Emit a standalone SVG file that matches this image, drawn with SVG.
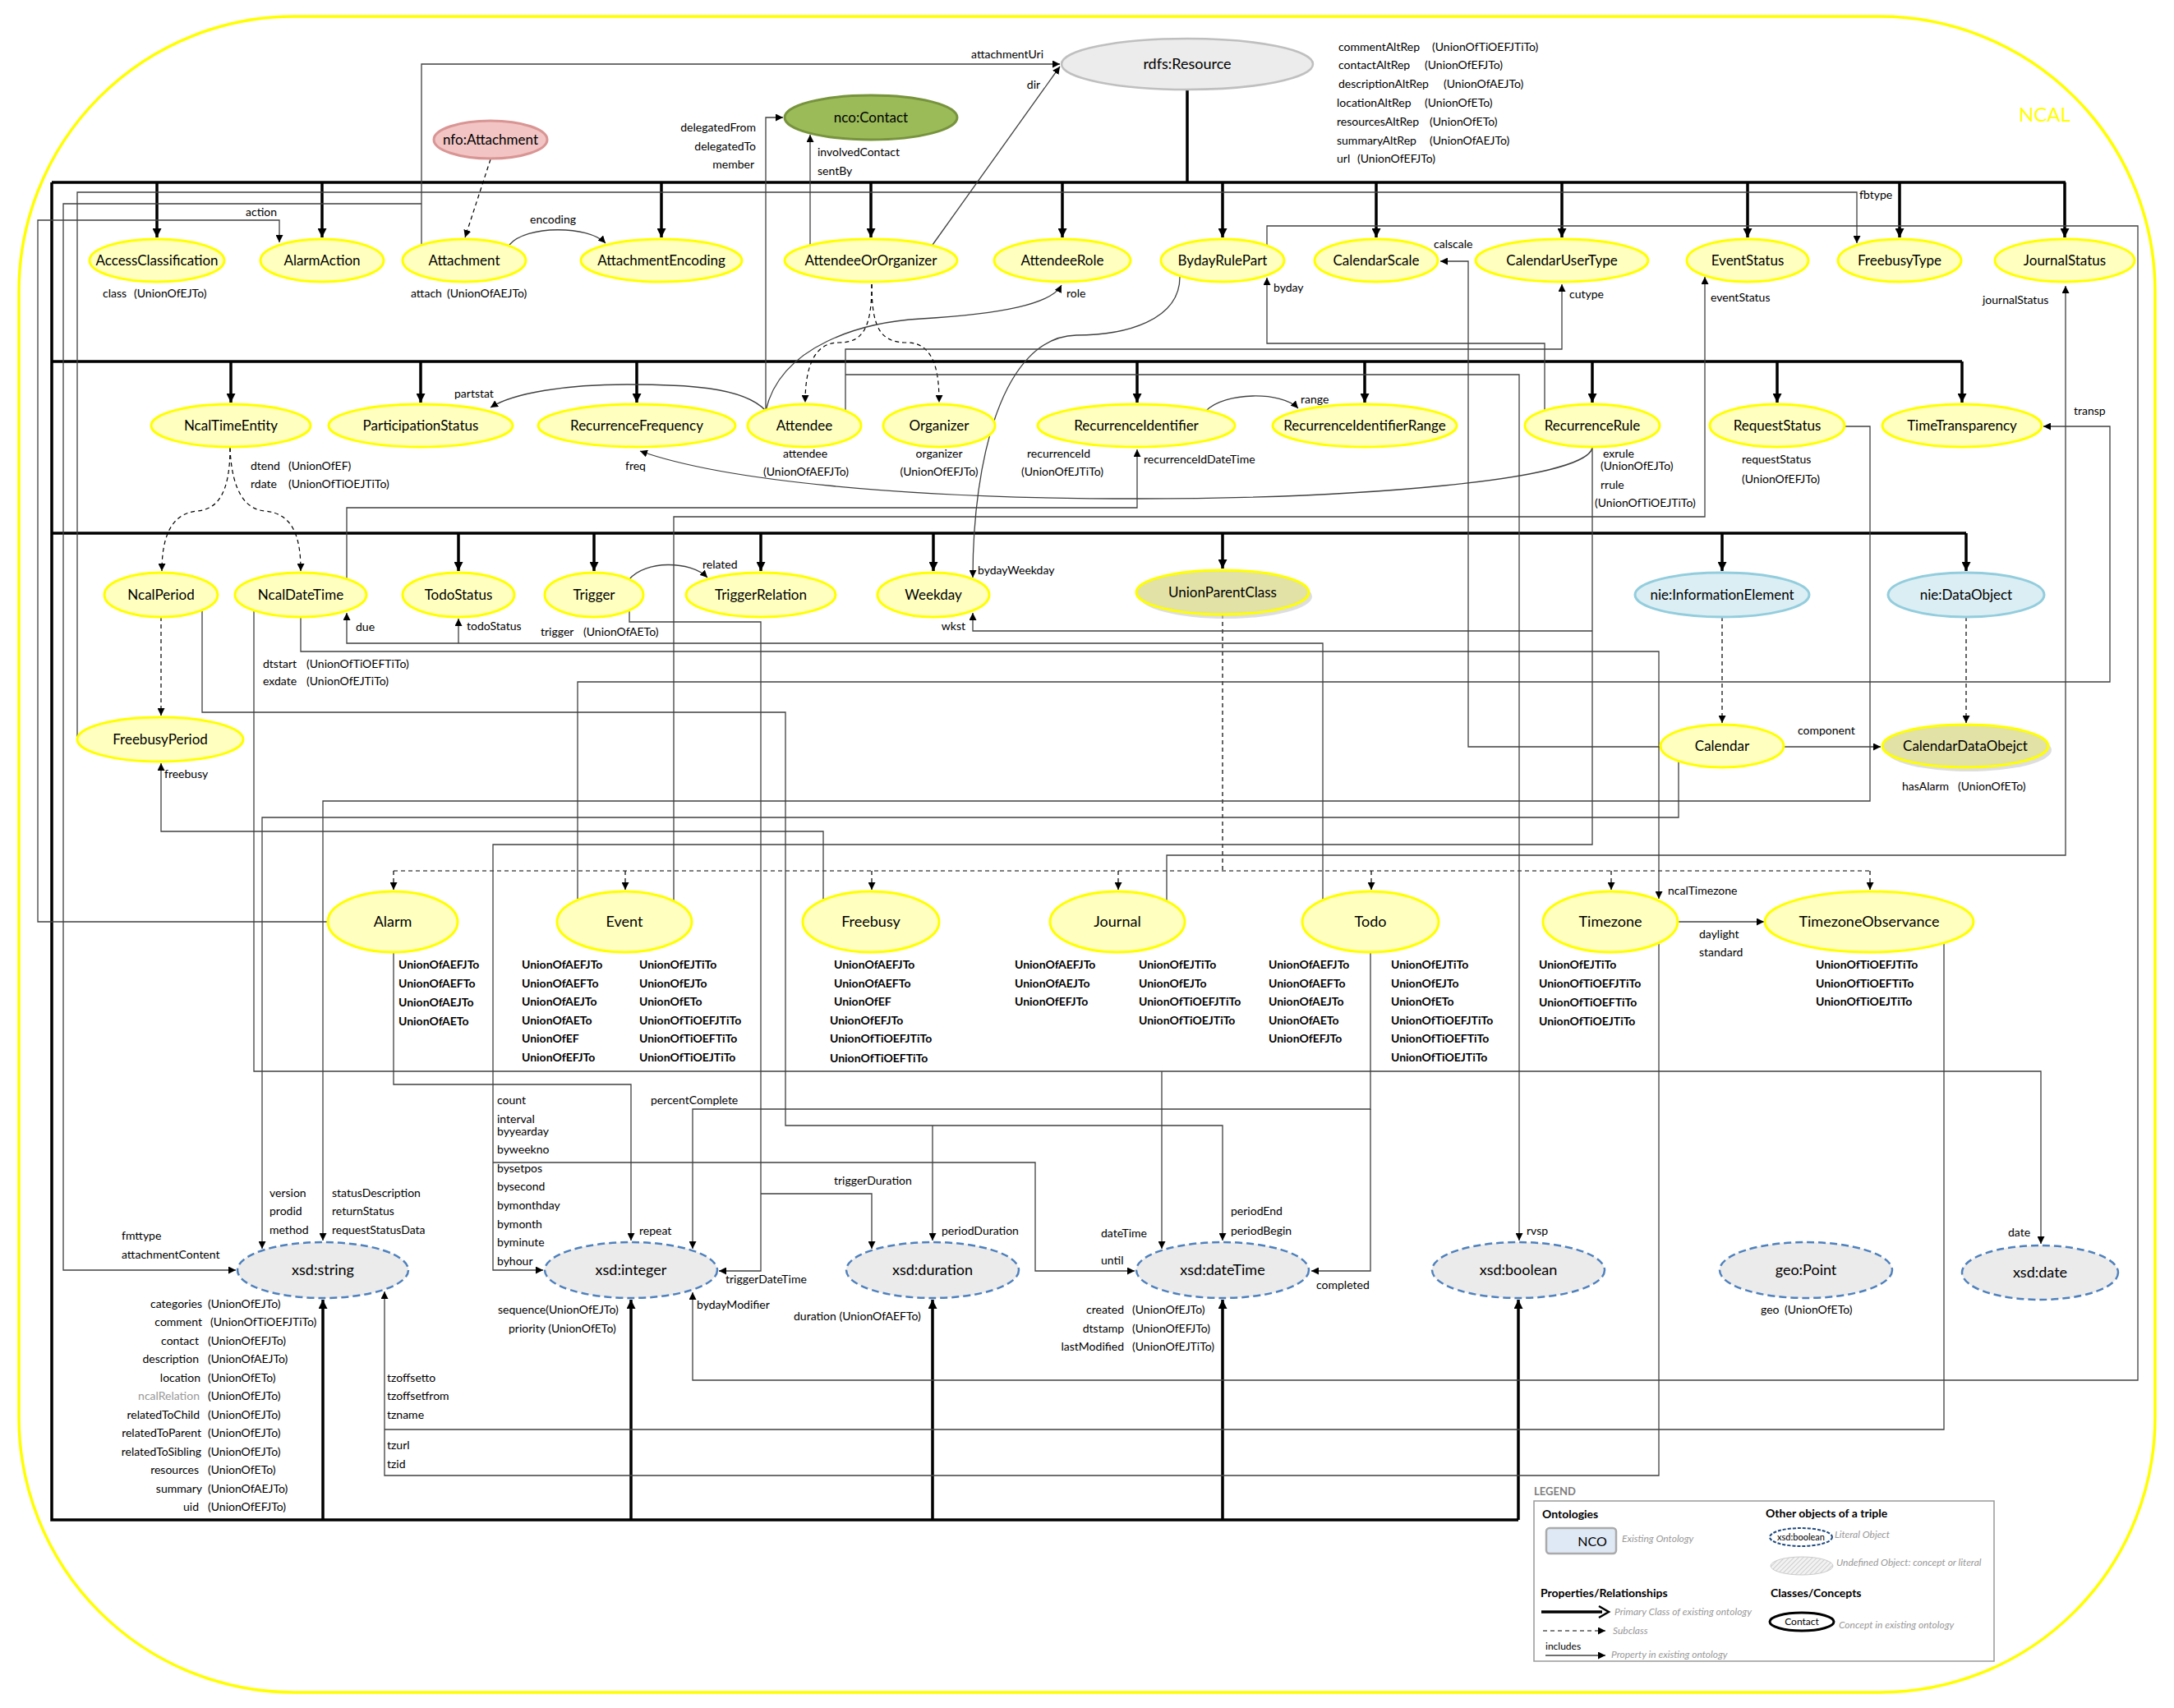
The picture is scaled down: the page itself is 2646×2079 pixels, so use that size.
<svg xmlns="http://www.w3.org/2000/svg" width="2646" height="2079" viewBox="0 0 2646 2079">
<style>
text{font-family:Lato,"Liberation Sans",sans-serif;fill:#000}
.t{font-size:17px;text-anchor:middle}
.tl{font-size:18px;text-anchor:middle}
.s{font-size:14px}
.m{text-anchor:middle}
.e{text-anchor:end}
.b{font-size:14px;font-weight:bold}
.n{fill:#ffffc0;stroke:#ffff00;stroke-width:3}
.k{fill:#e3e2a6;stroke:#ffff00;stroke-width:3}
.lit{fill:#ebebeb;stroke:#4f81bd;stroke-width:2.5;stroke-dasharray:9 5}
.nie{fill:#dbeef4;stroke:#93cddd;stroke-width:3}
.c{fill:none;stroke:#404040;stroke-width:1.3;marker-end:url(#a)}
.cn{fill:none;stroke:#404040;stroke-width:1.3}
.d{fill:none;stroke:#000;stroke-width:1.2;stroke-dasharray:5 4}
.da{fill:none;stroke:#000;stroke-width:1.2;stroke-dasharray:5 4;marker-end:url(#a)}
.B{fill:none;stroke:#000;stroke-width:3.5}
.Ba{fill:none;stroke:#000;stroke-width:3.5;marker-end:url(#ab)}
.lg{font-size:12px;font-style:italic;fill:#999}
.lh{font-size:14px;font-weight:bold}
</style>
<defs>
<marker id="a" viewBox="0 0 10 10" refX="10" refY="5" markerWidth="9" markerHeight="9" markerUnits="userSpaceOnUse" orient="auto"><path d="M0,0 L10,5 L0,10 z" fill="#000"/></marker>
<marker id="ab" viewBox="0 0 10 10" refX="10" refY="5" markerWidth="12" markerHeight="11" markerUnits="userSpaceOnUse" orient="auto"><path d="M0,0 L10,5 L0,10 z" fill="#000"/></marker>
<pattern id="hatch" width="4" height="4" patternUnits="userSpaceOnUse" patternTransform="rotate(45)"><rect width="4" height="4" fill="#f2f2f2"/><line x1="0" y1="0" x2="0" y2="4" stroke="#aaa" stroke-width="1"/></pattern>
</defs>
<rect x="0" y="0" width="2646" height="2079" fill="#fff"/>
<rect x="23" y="20" width="2600" height="2040" rx="335" ry="335" fill="none" stroke="#ffff00" stroke-width="3.5"/>
<text x="2457" y="148" style="font-size:24px;fill:#ffff00">NCAL</text>

<g id="connectors">
<path class="B" d="M1445,109 V222 M63,222 H2514 M63,222 V1850 H1848 M63,440 H2388 M63,649 H2393"/>
<path class="Ba" d="M191,222 V289"/><path class="Ba" d="M392,222 V289"/><path class="Ba" d="M805,222 V289"/>
<path class="Ba" d="M1060,222 V289"/><path class="Ba" d="M1293,222 V289"/><path class="Ba" d="M1488,222 V289"/>
<path class="Ba" d="M1675,222 V289"/><path class="Ba" d="M1901,222 V289"/><path class="Ba" d="M2127,222 V289"/>
<path class="Ba" d="M2312,222 V289"/><path class="Ba" d="M2513,222 V289"/>
<path class="Ba" d="M281,440 V490"/><path class="Ba" d="M512,440 V490"/><path class="Ba" d="M775,440 V490"/>
<path class="Ba" d="M1384,440 V490"/><path class="Ba" d="M1661,440 V490"/><path class="Ba" d="M1938,440 V490"/>
<path class="Ba" d="M2163,440 V490"/><path class="Ba" d="M2388,440 V490"/>
<path class="Ba" d="M558,649 V695"/><path class="Ba" d="M723,649 V695"/><path class="Ba" d="M926,649 V695"/>
<path class="Ba" d="M1136,649 V695"/><path class="Ba" d="M1488,649 V692"/><path class="Ba" d="M2096,649 V695"/>
<path class="Ba" d="M2393,649 V695"/>
<path class="Ba" d="M393,1850 V1582"/><path class="Ba" d="M768,1850 V1582"/><path class="Ba" d="M1135,1850 V1582"/>
<path class="Ba" d="M1488,1850 V1582"/><path class="Ba" d="M1848,1850 V1582"/>

<path class="da" d="M597,194 L566,289"/>
<path class="da" d="M1061,346 C1061,400 1050,417 1021,417 C985,417 980,460 980,490"/>
<path class="da" d="M1061,346 C1061,400 1072,417 1104,417 C1140,417 1143,460 1143,490"/>
<path class="da" d="M280,545 C280,600 265,620 240,622 C205,625 197,660 197,695"/>
<path class="da" d="M280,545 C282,600 300,620 322,622 C360,625 366,660 366,695"/>
<path class="da" d="M196,751 V871"/>
<path class="da" d="M2096,751 V880"/>
<path class="da" d="M2393,751 V880"/>
<path class="d" d="M1488,748 V1060 M479,1060 H2276"/>
<path class="da" d="M479,1060 V1083"/><path class="da" d="M761,1060 V1083"/><path class="da" d="M1061,1060 V1083"/>
<path class="da" d="M1361,1060 V1083"/><path class="da" d="M1669,1060 V1083"/><path class="da" d="M1961,1060 V1083"/>
<path class="da" d="M2276,1060 V1083"/>

<path class="c" d="M513,298 V78 H1290"/>
<path class="c" d="M513,248 H77 V1546 H287"/>
<path class="c" d="M1135,298 L1290,81"/>
<path class="c" d="M986,298 V164"/>
<path class="c" d="M932,500 V143 H953"/>
<path class="c" d="M620,298 C640,274 716,274 737,296"/>
<path class="c" d="M399,1122 H46 V268 H340 V295"/>
<path class="c" d="M94,900 V234 H2260 V296"/>
<path class="c" d="M932,500 C950,420 1050,392 1121,388 C1220,382 1280,370 1292,347"/>
<path class="c" d="M932,500 C905,470 830,468 763,468 C690,468 625,478 597,496"/>
<path class="c" d="M1029,500 V425 H1901 V346"/>
<path class="c" d="M1029,456 H1849 V1510"/>
<path class="c" d="M1880,500 V418 H1542 V338"/>
<path class="c" d="M2021,909 H1787 V318 H1753"/>
<path class="c" d="M1542,298 V275 H2602 V1680 H843 V1573"/>
<path class="c" d="M1436,337 C1436,390 1370,408 1310,408 C1220,410 1184,560 1184,703"/>
<path class="c" d="M1938,768 H1184 V746"/>
<path class="c" d="M1938,545 V1028 H600 V1546 H661"/>
<path class="c" d="M600,1415 H1260 V1547 H1381"/>
<path class="c" d="M1468,500 C1490,477 1560,476 1580,497"/>
<path class="c" d="M422,705 V618 H1384 V547"/>
<path class="c" d="M1938,545 C1930,585 1650,607 1385,607 C1100,607 880,585 779,549"/>
<path class="c" d="M1610,1095 V783 H422 V746"/>
<path class="c" d="M558,783 V753"/>
<path class="c" d="M366,751 V793 H2019 V1094"/>
<path class="c" d="M766,743 V757 H926 V1547 H875"/>
<path class="c" d="M926,1453 H1061 V1520"/>
<path class="c" d="M766,705 C785,682 840,682 861,703"/>
<path class="c" d="M246,743 V867 H956 V1370 H1488 V1510"/>
<path class="c" d="M1135,1370 V1510"/>
<path class="c" d="M309,743 V1304 H2484 V1514"/>
<path class="c" d="M1414,1304 V1520"/>
<path class="c" d="M1002,1095 V1012 H196 V929"/>
<path class="c" d="M2043,926 V995 H319 V1520"/>
<path class="c" d="M2245,519 H2276 V975 H393 V1510"/>
<path class="c" d="M479,1159 V1320 H768 V1510"/>
<path class="c" d="M1668,1159 V1350 H843 V1520"/>
<path class="c" d="M1668,1350 V1547 H1596"/>
<path class="c" d="M2019,1148 V1796 H468 V1572"/>
<path class="cn" d="M2366,1148 V1740 H468"/>
<path class="c" d="M1420,1097 V1041 H2514 V348"/>
<path class="c" d="M820,1097 V629 H2075 V337"/>
<path class="c" d="M703,1096 V830 H2568 V519 H2487"/>
<path class="c" d="M2171,909 H2289"/>
<path class="c" d="M2042,1122 H2147"/>
</g>

<g id="edge-labels" class="s">
<text class="s e" x="1270" y="71">attachmentUri</text>
<text class="s m" x="1258" y="108">dir</text>
<text class="s" x="995" y="190">involvedContact</text>
<text class="s" x="995" y="213">sentBy</text>
<text class="s e" x="920" y="160">delegatedFrom</text>
<text class="s e" x="920" y="183">delegatedTo</text>
<text class="s e" x="918" y="205">member</text>
<text class="s m" x="673" y="272">encoding</text>
<text class="s m" x="318" y="263">action</text>
<text class="s" x="2263" y="242">fbtype</text>
<text class="s" x="1745" y="302">calscale</text>
<text class="s" x="125" y="362">class</text><text class="s" x="163" y="362">(UnionOfEJTo)</text>
<text class="s" x="500" y="362">attach</text><text class="s" x="544" y="362">(UnionOfAEJTo)</text>
<text class="s" x="1298" y="362">role</text>
<text class="s" x="1550" y="355">byday</text>
<text class="s" x="1910" y="363">cutype</text>
<text class="s" x="2082" y="367">eventStatus</text>
<text class="s" x="2413" y="370">journalStatus</text>
<text class="s" x="553" y="484">partstat</text>
<text class="s" x="1583" y="491">range</text>
<text class="s" x="2524" y="505">transp</text>
<text class="s" x="761" y="572">freq</text>
<text class="s" x="305" y="572">dtend</text><text class="s" x="351" y="572">(UnionOfEF)</text>
<text class="s" x="305" y="594">rdate</text><text class="s" x="351" y="594">(UnionOfTiOEJTiTo)</text>
<text class="s m" x="980" y="557">attendee</text>
<text class="s m" x="981" y="579">(UnionOfAEFJTo)</text>
<text class="s m" x="1143" y="557">organizer</text>
<text class="s m" x="1143" y="579">(UnionOfEFJTo)</text>
<text class="s" x="1250" y="557">recurrenceId</text>
<text class="s" x="1243" y="579">(UnionOfEJTiTo)</text>
<text class="s" x="1392" y="564">recurrenceIdDateTime</text>
<text class="s" x="1951" y="557">exrule</text>
<text class="s" x="1948" y="572">(UnionOfEJTo)</text>
<text class="s" x="1948" y="595">rrule</text>
<text class="s" x="1941" y="617">(UnionOfTiOEJTiTo)</text>
<text class="s" x="2120" y="564">requestStatus</text>
<text class="s" x="2120" y="588">(UnionOfEFJTo)</text>
<text class="s" x="1629" y="62">commentAltRep</text><text class="s" x="1743" y="62">(UnionOfTiOEFJTiTo)</text>
<text class="s" x="1629" y="84">contactAltRep</text><text class="s" x="1734" y="84">(UnionOfEFJTo)</text>
<text class="s" x="1629" y="107">descriptionAltRep</text><text class="s" x="1757" y="107">(UnionOfAEJTo)</text>
<text class="s" x="1627" y="130">locationAltRep</text><text class="s" x="1734" y="130">(UnionOfETo)</text>
<text class="s" x="1627" y="153">resourcesAltRep</text><text class="s" x="1740" y="153">(UnionOfETo)</text>
<text class="s" x="1627" y="176">summaryAltRep</text><text class="s" x="1740" y="176">(UnionOfAEJTo)</text>
<text class="s" x="1627" y="198">url</text><text class="s" x="1652" y="198">(UnionOfEFJTo)</text>
<text class="s" x="855" y="692">related</text>
<text class="s" x="1190" y="699">bydayWeekday</text>
<text class="s" x="433" y="768">due</text>
<text class="s" x="568" y="767">todoStatus</text>
<text class="s" x="658" y="774">trigger</text><text class="s" x="710" y="774">(UnionOfAETo)</text>
<text class="s e" x="1175" y="767">wkst</text>
<text class="s" x="320" y="813">dtstart</text><text class="s" x="373" y="813">(UnionOfTiOEFTiTo)</text>
<text class="s" x="320" y="834">exdate</text><text class="s" x="373" y="834">(UnionOfEJTiTo)</text>
<text class="s" x="200" y="947">freebusy</text>
<text class="s" x="2188" y="894">component</text>
<text class="s" x="2315" y="962">hasAlarm</text><text class="s" x="2383" y="962">(UnionOfETo)</text>
<text class="s" x="2030" y="1089">ncalTimezone</text>
<text class="s" x="2068" y="1142">daylight</text>
<text class="s" x="2068" y="1164">standard</text>
<text class="s" x="605" y="1344">count</text>
<text class="s" x="605" y="1367">interval</text>
<text class="s" x="605" y="1382">byyearday</text>
<text class="s" x="605" y="1404">byweekno</text>
<text class="s" x="605" y="1427">bysetpos</text>
<text class="s" x="605" y="1449">bysecond</text>
<text class="s" x="605" y="1472">bymonthday</text>
<text class="s" x="605" y="1495">bymonth</text>
<text class="s" x="605" y="1517">byminute</text>
<text class="s" x="605" y="1540">byhour</text>
<text class="s" x="792" y="1344">percentComplete</text>
<text class="s" x="1015" y="1442">triggerDuration</text>
<text class="s" x="1146" y="1503">periodDuration</text>
<text class="s" x="1498" y="1479">periodEnd</text>
<text class="s" x="1498" y="1503">periodBegin</text>
<text class="s" x="1340" y="1506">dateTime</text>
<text class="s" x="1340" y="1539">until</text>
<text class="s" x="883" y="1562">triggerDateTime</text>
<text class="s" x="1602" y="1569">completed</text>
<text class="s" x="778" y="1503">repeat</text>
<text class="s" x="1858" y="1503">rvsp</text>
<text class="s" x="2444" y="1505">date</text>
<text class="s" x="328" y="1457">version</text>
<text class="s" x="328" y="1479">prodid</text>
<text class="s" x="328" y="1502">method</text>
<text class="s" x="404" y="1457">statusDescription</text>
<text class="s" x="404" y="1479">returnStatus</text>
<text class="s" x="404" y="1502">requestStatusData</text>
<text class="s" x="148" y="1509">fmttype</text>
<text class="s" x="148" y="1532">attachmentContent</text>
<text class="s" x="848" y="1593">bydayModifier</text>
<text class="s" x="606" y="1599">sequence(UnionOfEJTo)</text>
<text class="s" x="619" y="1622">priority (UnionOfETo)</text>
<text class="s" x="966" y="1607">duration (UnionOfAEFTo)</text>
<text class="s e" x="1368" y="1599">created</text><text class="s" x="1378" y="1599">(UnionOfEJTo)</text>
<text class="s e" x="1368" y="1622">dtstamp</text><text class="s" x="1378" y="1622">(UnionOfEFJTo)</text>
<text class="s e" x="1368" y="1644">lastModified</text><text class="s" x="1378" y="1644">(UnionOfEJTiTo)</text>
<text class="s" x="2143" y="1599">geo</text><text class="s" x="2172" y="1599">(UnionOfETo)</text>
<text class="s" x="471" y="1682">tzoffsetto</text>
<text class="s" x="471" y="1704">tzoffsetfrom</text>
<text class="s" x="471" y="1727">tzname</text>
<text class="s" x="471" y="1764">tzurl</text>
<text class="s" x="471" y="1787">tzid</text>
<text class="s e" x="246" y="1592">categories</text><text class="s" x="253" y="1592">(UnionOfEJTo)</text>
<text class="s e" x="246" y="1614">comment</text><text class="s" x="256" y="1614">(UnionOfTiOEFJTiTo)</text>
<text class="s e" x="242" y="1637">contact</text><text class="s" x="253" y="1637">(UnionOfEFJTo)</text>
<text class="s e" x="242" y="1659">description</text><text class="s" x="253" y="1659">(UnionOfAEJTo)</text>
<text class="s e" x="244" y="1682">location</text><text class="s" x="253" y="1682">(UnionOfETo)</text>
<text class="s e" x="243" y="1704" style="fill:#999">ncalRelation</text><text class="s" x="253" y="1704">(UnionOfEJTo)</text>
<text class="s e" x="243" y="1727">relatedToChild</text><text class="s" x="253" y="1727">(UnionOfEJTo)</text>
<text class="s e" x="245" y="1749">relatedToParent</text><text class="s" x="253" y="1749">(UnionOfEJTo)</text>
<text class="s e" x="245" y="1772">relatedToSibling</text><text class="s" x="253" y="1772">(UnionOfEJTo)</text>
<text class="s e" x="242" y="1794">resources</text><text class="s" x="253" y="1794">(UnionOfETo)</text>
<text class="s e" x="246" y="1817">summary</text><text class="s" x="253" y="1817">(UnionOfAEJTo)</text>
<text class="s e" x="242" y="1839">uid</text><text class="s" x="253" y="1839">(UnionOfEFJTo)</text>
</g>

<g id="union-labels" class="b">
<text class="b" x="485" y="1179">UnionOfAEFJTo</text>
<text class="b" x="485" y="1202">UnionOfAEFTo</text>
<text class="b" x="485" y="1225">UnionOfAEJTo</text>
<text class="b" x="485" y="1248">UnionOfAETo</text>
<text class="b" x="635" y="1179">UnionOfAEFJTo</text>
<text class="b" x="635" y="1202">UnionOfAEFTo</text>
<text class="b" x="635" y="1224">UnionOfAEJTo</text>
<text class="b" x="635" y="1247">UnionOfAETo</text>
<text class="b" x="635" y="1269">UnionOfEF</text>
<text class="b" x="635" y="1292">UnionOfEFJTo</text>
<text class="b" x="778" y="1179">UnionOfEJTiTo</text>
<text class="b" x="778" y="1202">UnionOfEJTo</text>
<text class="b" x="778" y="1224">UnionOfETo</text>
<text class="b" x="778" y="1247">UnionOfTiOEFJTiTo</text>
<text class="b" x="778" y="1269">UnionOfTiOEFTiTo</text>
<text class="b" x="778" y="1292">UnionOfTiOEJTiTo</text>
<text class="b" x="1015" y="1179">UnionOfAEFJTo</text>
<text class="b" x="1015" y="1202">UnionOfAEFTo</text>
<text class="b" x="1015" y="1224">UnionOfEF</text>
<text class="b" x="1010" y="1247">UnionOfEFJTo</text>
<text class="b" x="1010" y="1269">UnionOfTiOEFJTiTo</text>
<text class="b" x="1010" y="1293">UnionOfTiOEFTiTo</text>
<text class="b" x="1235" y="1179">UnionOfAEFJTo</text>
<text class="b" x="1235" y="1202">UnionOfAEJTo</text>
<text class="b" x="1235" y="1224">UnionOfEFJTo</text>
<text class="b" x="1386" y="1179">UnionOfEJTiTo</text>
<text class="b" x="1386" y="1202">UnionOfEJTo</text>
<text class="b" x="1386" y="1224">UnionOfTiOEFJTiTo</text>
<text class="b" x="1386" y="1247">UnionOfTiOEJTiTo</text>
<text class="b" x="1544" y="1179">UnionOfAEFJTo</text>
<text class="b" x="1544" y="1202">UnionOfAEFTo</text>
<text class="b" x="1544" y="1224">UnionOfAEJTo</text>
<text class="b" x="1544" y="1247">UnionOfAETo</text>
<text class="b" x="1544" y="1269">UnionOfEFJTo</text>
<text class="b" x="1693" y="1179">UnionOfEJTiTo</text>
<text class="b" x="1693" y="1202">UnionOfEJTo</text>
<text class="b" x="1693" y="1224">UnionOfETo</text>
<text class="b" x="1693" y="1247">UnionOfTiOEFJTiTo</text>
<text class="b" x="1693" y="1269">UnionOfTiOEFTiTo</text>
<text class="b" x="1693" y="1292">UnionOfTiOEJTiTo</text>
<text class="b" x="1873" y="1179">UnionOfEJTiTo</text>
<text class="b" x="1873" y="1202">UnionOfTiOEFJTiTo</text>
<text class="b" x="1873" y="1225">UnionOfTiOEFTiTo</text>
<text class="b" x="1873" y="1248">UnionOfTiOEJTiTo</text>
<text class="b" x="2210" y="1179">UnionOfTiOEFJTiTo</text>
<text class="b" x="2210" y="1202">UnionOfTiOEFTiTo</text>
<text class="b" x="2210" y="1224">UnionOfTiOEJTiTo</text>
</g>

<g id="n-rdfsResource"><ellipse cx="1445" cy="78" rx="153" ry="31" fill="#ececec" stroke="#bfbfbf" stroke-width="2.5"/><text class="tl" x="1445" y="84">rdfs:Resource</text></g>
<g id="n-ncoContact"><ellipse cx="1060" cy="143" rx="105" ry="27" fill="#9bbb59" stroke="#77933c" stroke-width="3"/><text class="t" x="1060" y="149">nco:Contact</text></g>
<g id="n-nfoAttachment"><ellipse cx="597" cy="170" rx="69" ry="23" fill="#f2c4c4" stroke="#d99594" stroke-width="3"/><text class="t" x="597" y="176">nfo:Attachment</text></g>

<g id="n-AccessClassification"><ellipse class="n" cx="191" cy="317" rx="82" ry="26"/><text class="t" x="191" y="323">AccessClassification</text></g>
<g id="n-AlarmAction"><ellipse class="n" cx="392" cy="317" rx="75" ry="26"/><text class="t" x="392" y="323">AlarmAction</text></g>
<g id="n-Attachment"><ellipse class="n" cx="565" cy="317" rx="75" ry="26"/><text class="t" x="565" y="323">Attachment</text></g>
<g id="n-AttachmentEncoding"><ellipse class="n" cx="805" cy="317" rx="98" ry="26"/><text class="t" x="805" y="323">AttachmentEncoding</text></g>
<g id="n-AttendeeOrOrganizer"><ellipse class="n" cx="1060" cy="317" rx="105" ry="26"/><text class="t" x="1060" y="323">AttendeeOrOrganizer</text></g>
<g id="n-AttendeeRole"><ellipse class="n" cx="1293" cy="317" rx="83" ry="26"/><text class="t" x="1293" y="323">AttendeeRole</text></g>
<g id="n-BydayRulePart"><ellipse class="n" cx="1488" cy="317" rx="75" ry="26"/><text class="t" x="1488" y="323">BydayRulePart</text></g>
<g id="n-CalendarScale"><ellipse class="n" cx="1675" cy="317" rx="75" ry="26"/><text class="t" x="1675" y="323">CalendarScale</text></g>
<g id="n-CalendarUserType"><ellipse class="n" cx="1901" cy="317" rx="105" ry="26"/><text class="t" x="1901" y="323">CalendarUserType</text></g>
<g id="n-EventStatus"><ellipse class="n" cx="2127" cy="317" rx="74" ry="26"/><text class="t" x="2127" y="323">EventStatus</text></g>
<g id="n-FreebusyType"><ellipse class="n" cx="2312" cy="317" rx="75" ry="26"/><text class="t" x="2312" y="323">FreebusyType</text></g>
<g id="n-JournalStatus"><ellipse class="n" cx="2513" cy="317" rx="85" ry="26"/><text class="t" x="2513" y="323">JournalStatus</text></g>

<g id="n-NcalTimeEntity"><ellipse class="n" cx="281" cy="518" rx="97" ry="26"/><text class="t" x="281" y="524">NcalTimeEntity</text></g>
<g id="n-ParticipationStatus"><ellipse class="n" cx="512" cy="518" rx="112" ry="26"/><text class="t" x="512" y="524">ParticipationStatus</text></g>
<g id="n-RecurrenceFrequency"><ellipse class="n" cx="775" cy="518" rx="120" ry="26"/><text class="t" x="775" y="524">RecurrenceFrequency</text></g>
<g id="n-Attendee"><ellipse class="n" cx="979" cy="518" rx="69" ry="26"/><text class="t" x="979" y="524">Attendee</text></g>
<g id="n-Organizer"><ellipse class="n" cx="1143" cy="518" rx="68" ry="26"/><text class="t" x="1143" y="524">Organizer</text></g>
<g id="n-RecurrenceIdentifier"><ellipse class="n" cx="1383" cy="518" rx="120" ry="26"/><text class="t" x="1383" y="524">RecurrenceIdentifier</text></g>
<g id="n-RecurrenceIdentifierRange"><ellipse class="n" cx="1661" cy="518" rx="112" ry="26"/><text class="t" x="1661" y="524">RecurrenceIdentifierRange</text></g>
<g id="n-RecurrenceRule"><ellipse class="n" cx="1938" cy="518" rx="82" ry="26"/><text class="t" x="1938" y="524">RecurrenceRule</text></g>
<g id="n-RequestStatus"><ellipse class="n" cx="2163" cy="518" rx="82" ry="26"/><text class="t" x="2163" y="524">RequestStatus</text></g>
<g id="n-TimeTransparency"><ellipse class="n" cx="2388" cy="518" rx="97" ry="26"/><text class="t" x="2388" y="524">TimeTransparency</text></g>

<g id="n-NcalPeriod"><ellipse class="n" cx="196" cy="724" rx="69" ry="27"/><text class="t" x="196" y="730">NcalPeriod</text></g>
<g id="n-NcalDateTime"><ellipse class="n" cx="366" cy="724" rx="80" ry="27"/><text class="t" x="366" y="730">NcalDateTime</text></g>
<g id="n-TodoStatus"><ellipse class="n" cx="558" cy="724" rx="68" ry="27"/><text class="t" x="558" y="730">TodoStatus</text></g>
<g id="n-Trigger"><ellipse class="n" cx="723" cy="724" rx="60" ry="27"/><text class="t" x="723" y="730">Trigger</text></g>
<g id="n-TriggerRelation"><ellipse class="n" cx="926" cy="724" rx="91" ry="27"/><text class="t" x="926" y="730">TriggerRelation</text></g>
<g id="n-Weekday"><ellipse class="n" cx="1136" cy="724" rx="68" ry="27"/><text class="t" x="1136" y="730">Weekday</text></g>
<g id="n-UnionParentClass"><ellipse cx="1492" cy="726" rx="105" ry="27" fill="#c8c8c8" opacity="0.6"/><ellipse class="k" cx="1488" cy="721" rx="105" ry="27"/><text class="t" x="1488" y="727">UnionParentClass</text></g>
<g id="n-nieInformationElement"><ellipse class="nie" cx="2096" cy="724" rx="106" ry="27"/><text class="t" x="2096" y="730">nie:InformationElement</text></g>
<g id="n-nieDataObject"><ellipse class="nie" cx="2393" cy="724" rx="95" ry="27"/><text class="t" x="2393" y="730">nie:DataObject</text></g>

<g id="n-FreebusyPeriod"><ellipse class="n" cx="195" cy="900" rx="101" ry="27"/><text class="t" x="195" y="906">FreebusyPeriod</text></g>
<g id="n-Calendar"><ellipse class="n" cx="2096" cy="908" rx="75" ry="26"/><text class="t" x="2096" y="914">Calendar</text></g>
<g id="n-CalendarDataObejct"><ellipse cx="2396" cy="913" rx="101" ry="26" fill="#c8c8c8" opacity="0.6"/><ellipse class="k" cx="2392" cy="908" rx="101" ry="26"/><text class="t" x="2392" y="914">CalendarDataObejct</text></g>

<g id="n-Alarm"><ellipse class="n" cx="478" cy="1122" rx="79" ry="37"/><text class="tl" x="478" y="1128">Alarm</text></g>
<g id="n-Event"><ellipse class="n" cx="760" cy="1122" rx="82" ry="37"/><text class="tl" x="760" y="1128">Event</text></g>
<g id="n-Freebusy"><ellipse class="n" cx="1060" cy="1122" rx="83" ry="37"/><text class="tl" x="1060" y="1128">Freebusy</text></g>
<g id="n-Journal"><ellipse class="n" cx="1360" cy="1122" rx="82" ry="37"/><text class="tl" x="1360" y="1128">Journal</text></g>
<g id="n-Todo"><ellipse class="n" cx="1668" cy="1122" rx="83" ry="37"/><text class="tl" x="1668" y="1128">Todo</text></g>
<g id="n-Timezone"><ellipse class="n" cx="1960" cy="1122" rx="82" ry="37"/><text class="tl" x="1960" y="1128">Timezone</text></g>
<g id="n-TimezoneObservance"><ellipse class="n" cx="2275" cy="1122" rx="127" ry="37"/><text class="tl" x="2275" y="1128">TimezoneObservance</text></g>

<g id="n-xsdstring"><ellipse class="lit" cx="393" cy="1546" rx="104" ry="34"/><text class="tl" x="393" y="1552">xsd:string</text></g>
<g id="n-xsdinteger"><ellipse class="lit" cx="768" cy="1546" rx="105" ry="34"/><text class="tl" x="768" y="1552">xsd:integer</text></g>
<g id="n-xsdduration"><ellipse class="lit" cx="1135" cy="1546" rx="105" ry="34"/><text class="tl" x="1135" y="1552">xsd:duration</text></g>
<g id="n-xsddateTime"><ellipse class="lit" cx="1488" cy="1546" rx="105" ry="34"/><text class="tl" x="1488" y="1552">xsd:dateTime</text></g>
<g id="n-xsdboolean"><ellipse class="lit" cx="1848" cy="1546" rx="105" ry="34"/><text class="tl" x="1848" y="1552">xsd:boolean</text></g>
<g id="n-geoPoint"><ellipse class="lit" cx="2198" cy="1546" rx="105" ry="34"/><text class="tl" x="2198" y="1552">geo:Point</text></g>
<g id="n-xsddate"><ellipse class="lit" cx="2483" cy="1549" rx="95" ry="33"/><text class="tl" x="2483" y="1555">xsd:date</text></g>

<g id="legend">
<text x="1867" y="1820" style="font-size:13px;font-weight:bold;fill:#808080">LEGEND</text>
<rect x="1867" y="1827" width="560" height="195" fill="#fff" stroke="#999" stroke-width="1.5"/>
<text class="lh" x="1877" y="1848">Ontologies</text>
<rect x="1882" y="1860" width="85" height="31" rx="4" fill="#dfe8f5" stroke="#aaa" stroke-width="2.5"/>
<text x="1938" y="1882" style="font-size:16px;text-anchor:middle">NCO</text>
<text class="lg" x="1974" y="1877">Existing Ontology</text>
<text class="lh" x="2149" y="1847">Other objects of a triple</text>
<ellipse cx="2192" cy="1871" rx="38" ry="11" fill="#fff" stroke="#1f497d" stroke-width="2" stroke-dasharray="4 2"/>
<text x="2192" y="1875" style="font-size:11px;text-anchor:middle">xsd:boolean</text>
<text class="lg" x="2233" y="1872">Literal Object</text>
<ellipse cx="2193" cy="1906" rx="38" ry="11" fill="url(#hatch)" stroke="#ccc" stroke-width="1"/>
<text class="lg" x="2235" y="1906">Undefined Object: concept or literal</text>
<text class="lh" x="1875" y="1944">Properties/Relationships</text>
<path d="M1876,1962 H1950" stroke="#000" stroke-width="3.5" fill="none"/>
<path d="M1946,1955 L1958,1962 L1946,1969" stroke="#000" stroke-width="2.5" fill="none"/>
<text class="lg" x="1965" y="1966">Primary Class of existing ontology</text>
<path class="da" d="M1878,1985 H1954"/>
<text class="lg" x="1963" y="1989">Subclass</text>
<text x="1881" y="2008" style="font-size:12px">includes</text>
<path class="c" d="M1881,2015 H1954"/>
<text class="lg" x="1961" y="2018">Property in existing ontology</text>
<text class="lh" x="2155" y="1944">Classes/Concepts</text>
<ellipse cx="2193" cy="1974" rx="39" ry="11" fill="#fff" stroke="#000" stroke-width="3"/>
<text x="2193" y="1978" style="font-size:12px;text-anchor:middle">Contact</text>
<text class="lg" x="2238" y="1982">Concept in existing ontology</text>
</g>
</svg>
